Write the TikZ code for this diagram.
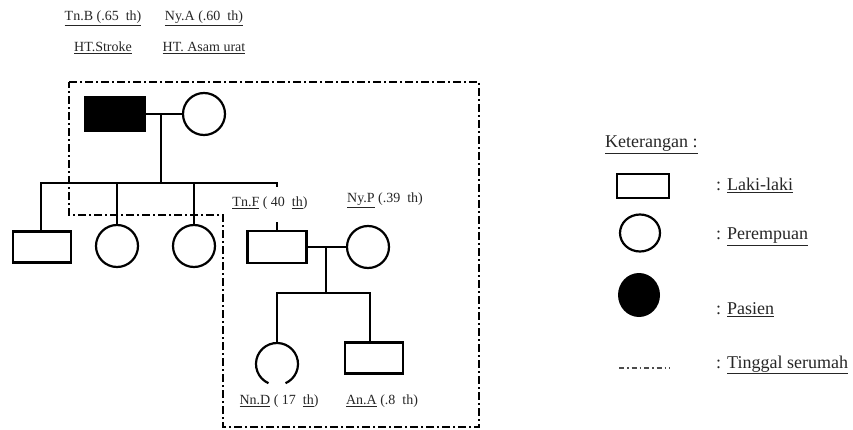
\documentclass[tikz,border=0pt]{standalone}
\usepackage{fontspec}
\setmainfont{Liberation Serif}
\usetikzlibrary{shapes.geometric}
\tikzset{
  male/.style={draw, line width=2.2pt, rectangle, minimum width=58pt, minimum height=31pt, inner sep=0pt},
  female/.style={draw, line width=2.2pt, circle, minimum size=42pt, inner sep=0pt},
  patient/.style={male, fill=black},
  link/.style={line width=1.8pt},
  house/.style={line width=1.8pt, dash pattern=on 8pt off 3pt on 2pt off 3pt},
  lbl/.style={font=\fontsize{14}{16}\selectfont, text=black!85, inner sep=0pt},
  leg/.style={font=\fontsize{18}{20}\selectfont, text=black!85, inner sep=0pt, anchor=west}
}
\begin{document}
\begin{tikzpicture}[x=1pt,y=-1pt]
\useasboundingbox (0,0) rectangle (853,430);
% top labels
\node[lbl] (ltnb) at (103,18) {\underline{Tn.B (.65~~th)}};
\node[lbl] (lnya) at (204,18) {\underline{Ny.A (.60~~th)}};
\node[lbl] (lht1) at (103,48) {\underline{HT.Stroke}};
\node[lbl] (lht2) at (204,48) {\underline{HT. Asam urat}};
% household boundary
\draw[house] (69,82) -- (479,82) -- (479,427) -- (223,427) -- (223,215) -- (69,215) -- cycle;
% generation 1
\node[patient, minimum width=60pt, minimum height=34pt] (tnb) at (115,114) {};
\node[female] (nya) at (204,114) {};
\draw[link] (tnb.east) -- (nya.west);
\coordinate (m1) at (161,114);
\coordinate (s1) at (161,183);
\draw[link] (m1) -- (s1);
% generation 2
\node[male] (c1) at (42,247) {};
\node[female] (c2) at (117,246) {};
\node[female] (c3) at (194,246) {};
\node[male, minimum width=59pt, minimum height=32pt] (tnf) at (277,247) {};
\node[female] (nyp) at (368,247) {};
\coordinate (sl) at (41,183);
\coordinate (sr) at (277,183);
\draw[link] (sl |- c1.north) -- (sl) -- (sr) -- ++(0,4);
\draw[link] (c2.north |- sl) -- (c2.north);
\draw[link] (c3.north |- sl) -- (c3.north);
\draw[link] (tnf.north) -- ++(0,-8);
\draw[link] (tnf.east) -- (nyp.west);
\coordinate (m2) at (326,247);
\coordinate (s2) at (326,293);
\draw[link] (m2) -- (s2);
\node[lbl] (ltnf) at (270,203) {\underline{Tn.F} ( 40~~\underline{th})};
\node[lbl] (lnyp) at (385,200) {\underline{Ny.P} (.39~~th)};
% generation 3
\node[circle, minimum size=42pt, inner sep=0pt] (nnd) at (277,364) {};
\draw[line width=2.2pt] ([shift={(114:21)}]nnd.center) arc[start angle=114, end angle=426, radius=21];
\node[male] (ana) at (374,358) {};
\coordinate (cl) at (277,293);
\coordinate (cr) at (370,293);
\draw[link] (nnd.north) -- (cl) -- (cr) -- (cr |- ana.north);
\node[lbl] (lnnd) at (279,401) {\underline{Nn.D} ( 17~~\underline{th})};
\node[lbl] (lana) at (382,401) {\underline{An.A} (.8~~th)};
% legend
\node[leg] (kt) at (605,145) {\underline{Keterangan :}};
\node[male, minimum width=52pt, minimum height=24pt] (lgm) at (643,186) {};
\node[draw, line width=2.2pt, ellipse, minimum width=40pt, minimum height=37pt, inner sep=0pt] (lgf) at (640,233) {};
\node[fill=black, ellipse, minimum width=42pt, minimum height=44pt, inner sep=0pt] (lgp) at (639,295) {};
\coordinate (lgh1) at (619,368);
\coordinate (lgh2) at (670,368);
\draw[line width=1.3pt, black!70, dash pattern=on 5pt off 3pt on 1.5pt off 3pt] (lgh1) -- (lgh2);
\node[leg] (t1) at (716,185) {: \underline{Laki-laki}};
\node[leg] (t2) at (716,237) {: \underline{Perempuan}};
\node[leg] (t3) at (716,310) {: \underline{Pasien}};
\node[leg] (t4) at (716,365) {: \underline{Tinggal serumah}};
\end{tikzpicture}
\end{document}
